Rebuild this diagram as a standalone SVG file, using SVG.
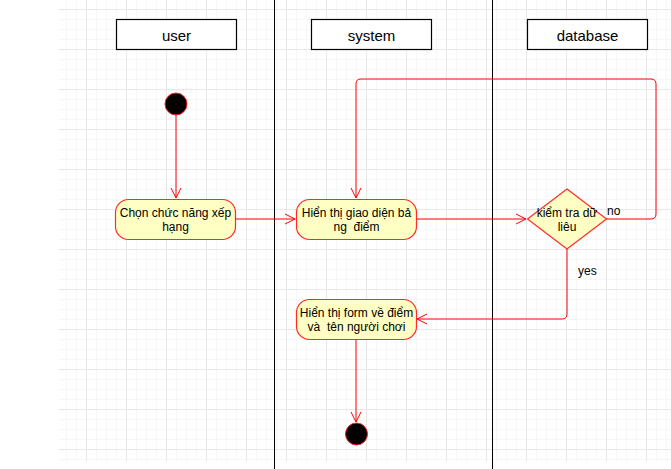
<svg xmlns="http://www.w3.org/2000/svg" width="671" height="469" viewBox="0 0 671 469">
  <style>
    .lane { stroke: #000; stroke-width: 1; }
    .hdr { fill: #fff; stroke: #000; stroke-width: 1.2; }
    .hdr-t { font-family: "Liberation Sans", Arial, sans-serif; font-size: 15px; fill: #000; text-anchor: middle; }
    .act { fill: #ffffc4; stroke: #ff2a2a; stroke-width: 1.2; }
    .t { font-family: "Liberation Sans", Arial, sans-serif; font-size: 12px; fill: #000; text-anchor: middle; white-space: pre; }
    .lbl { font-family: "Liberation Sans", Arial, sans-serif; font-size: 12px; fill: #000; }
    .flow { fill: none; stroke: #ff0000; stroke-width: 1; marker-end: url(#open); }
    .dot { fill: #000; stroke: #ff2020; stroke-width: 1; }
  </style>
  <defs>
    <pattern id="minor" patternUnits="userSpaceOnUse" x="6" y="9" width="10" height="10">
      <path d="M0 0.5H10M0.5 0V10" stroke="#f7f7f7" stroke-width="1" fill="none"/>
    </pattern>
    <pattern id="major" patternUnits="userSpaceOnUse" x="6" y="9" width="40" height="40">
      <path d="M0 0.5H40M0.5 0V40" stroke="#e8e8e8" stroke-width="1" fill="none"/>
    </pattern>
    <marker id="open" viewBox="0 0 12 12" refX="11" refY="6" markerWidth="12" markerHeight="12" markerUnits="userSpaceOnUse" orient="auto">
      <path d="M1 1L11 6L1 11" fill="none" stroke="#ff0000" stroke-width="1"/>
    </marker>
  </defs>

  <!-- canvas grid -->
  <rect x="0" y="0" width="671" height="469" fill="#fff"/>
  <rect x="59" y="0" width="612" height="462" fill="url(#minor)"/>
  <rect x="59" y="0" width="612" height="462" fill="url(#major)"/>

  <!-- swimlane separators -->
  <g id="lanes">
    <line class="lane" x1="274.5" y1="0" x2="274.5" y2="469"/>
    <line class="lane" x1="492.5" y1="0" x2="492.5" y2="469"/>
  </g>

  <!-- lane headers -->
  <g id="lane-user">
    <rect class="hdr" x="116.5" y="19.5" width="120" height="30"/>
    <text class="hdr-t" x="176.5" y="41">user</text>
  </g>
  <g id="lane-system">
    <rect class="hdr" x="311.5" y="19.5" width="120" height="30"/>
    <text class="hdr-t" x="371.5" y="41">system</text>
  </g>
  <g id="lane-database">
    <rect class="hdr" x="527.5" y="19.5" width="120" height="30"/>
    <text class="hdr-t" x="587.5" y="41">database</text>
  </g>

  <!-- connectors -->
  <g id="connectors">
    <path class="flow" d="M176 115V198"/>
    <path class="flow" d="M236 219H295"/>
    <path class="flow" d="M416 219H526"/>
    <path class="flow" d="M606 219H651Q656 219 656 214V84Q656 79 651 79H361Q356 79 356 84V198"/>
    <path class="flow" d="M567 249V314Q567 319 562 319H417"/>
    <path class="flow" d="M356 339V422"/>
    <text class="lbl" x="607" y="215">no</text>
    <text class="lbl" x="578" y="275">yes</text>
  </g>

  <!-- nodes -->
  <g id="start">
    <circle class="dot" cx="176" cy="104" r="11"/>
  </g>
  <g id="chon-chuc-nang">
    <rect class="act" x="115.5" y="199.5" width="120" height="40" rx="13"/>
    <text class="t" x="175.5" y="217">Chọn chức năng xếp</text>
    <text class="t" x="175.5" y="231">hạng</text>
  </g>
  <g id="hien-thi-giao-dien">
    <rect class="act" x="296.5" y="199.5" width="120" height="40" rx="13"/>
    <text class="t" x="356.5" y="217">Hiển thị giao diện bả</text>
    <text class="t" x="356.5" y="231">ng  điểm</text>
  </g>
  <g id="kiem-tra">
    <polygon class="act" points="567,189 606.5,219 567,249 527.5,219"/>
    <text class="t" x="567" y="217">kiểm tra dữ</text>
    <text class="t" x="567" y="231">liêu</text>
  </g>
  <g id="hien-thi-form">
    <rect class="act" x="296.5" y="299.5" width="120" height="40" rx="13"/>
    <text class="t" x="356.5" y="317">Hiển thị form về điểm</text>
    <text class="t" x="356.5" y="331">và  tên người chơi</text>
  </g>
  <g id="end">
    <circle class="dot" cx="356.5" cy="434" r="11"/>
  </g>
</svg>
